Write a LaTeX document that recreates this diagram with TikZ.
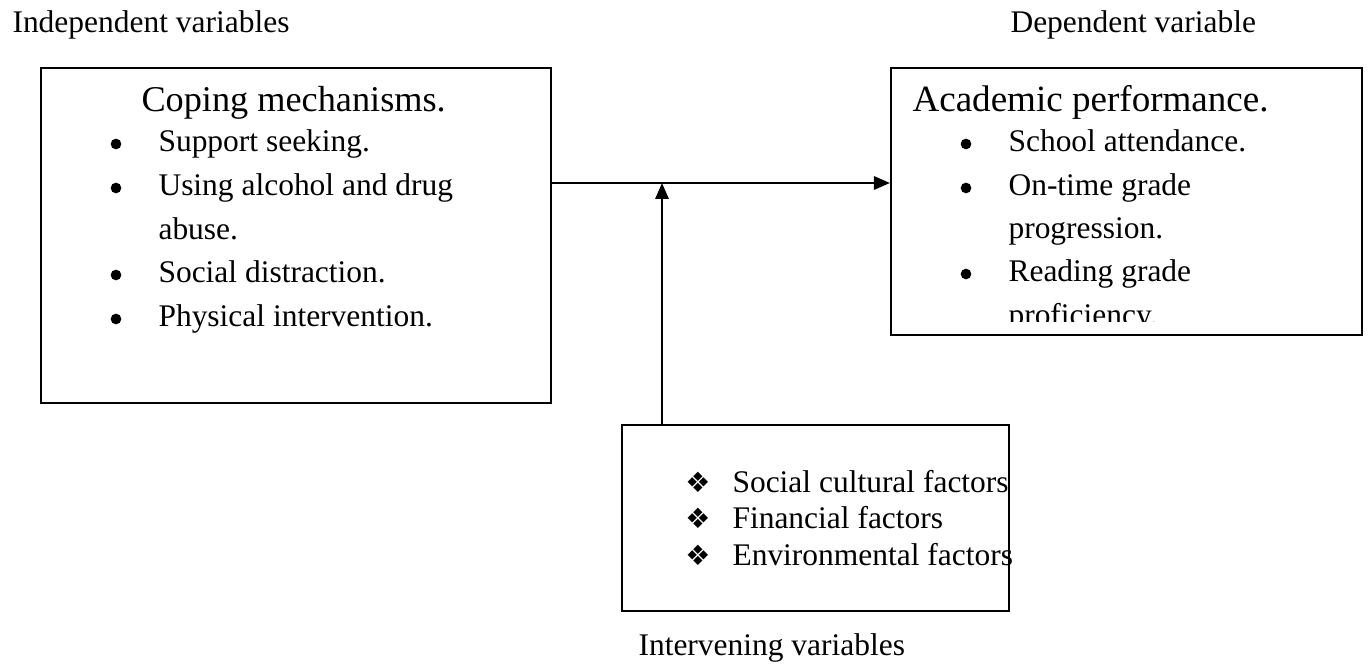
\documentclass[tikz,border=0pt]{standalone}
\usepackage{fontspec}
\setmainfont{Liberation Serif}
\newfontfamily\symfont{DejaVu Sans}
\usetikzlibrary{arrows.meta,fit}

\tikzset{
  box/.style={draw, line width=0.8pt, inner sep=0pt},
  txt/.style={anchor=base west, inner sep=0pt, font=\fontsize{11.8}{14}\selectfont},
  head/.style={anchor=base west, inner sep=0pt, font=\fontsize{13.6}{16}\selectfont},
  dot/.style={circle, fill, inner sep=0pt, minimum size=4pt},
  diam/.style={anchor=base, inner sep=0pt, font=\symfont\fontsize{10.5}{12}\selectfont},
  link/.style={line width=0.8pt, -{Triangle[length=6pt,width=5pt]}}
}

\begin{document}
\begin{tikzpicture}[x=0.375pt, y=-0.375pt]
    \useasboundingbox (0,0) rectangle (1368,665);

    % Variable labels
    \node[txt] (indep) at (12,33) {Independent variables};
    \node[txt] (dep) at (1010,33) {Dependent variable};
    \node[txt] (interv) at (638,655) {Intervening variables};

    % Coping mechanisms
    \node[box, fit={(41,68) (551,403)}] (coping) {};
    \node[head] (copinghead) at (141,112) {Coping mechanisms.};
    \foreach \y/\t [count=\i] in {152/Support seeking., 196/Using alcohol and drug, 240/abuse., 283/Social distraction., 327/Physical intervention.}
        \node[txt] (copingline\i) at (158,\y) {\t};
    \foreach \y [count=\i] in {152,196,283,327}
        \node[dot] (copingdot\i) at (116,\y-8) {};

    % Academic performance
    \node[box, fit={(891,68) (1362,335)}] (academic) {};
    \begin{scope}
        \clip (891,68) rectangle (1362,322);
        \node[head, font=\fontsize{13.9}{16}\selectfont] (academichead) at (912,112) {Academic performance.};
        \foreach \y/\t [count=\i] in {152/School attendance., 196/On-time grade, 239/progression., 282/Reading grade, 326/proficiency.}
            \node[txt] (academicline\i) at (1008,\y) {\t};
        \foreach \y [count=\i] in {152,196,282}
            \node[dot] (academicdot\i) at (966,\y-8) {};
    \end{scope}

    % Intervening factors
    \node[box, fit={(622,425) (1009,611)}] (factors) {};
    \foreach \y/\t [count=\i] in {492/Social cultural factors, 528/Financial factors, 565/Environmental factors} {
        \node[txt] (factorline\i) at (732,\y) {\t};
        \node[diam] (factordot\i) at (698,\y) {❖};
    }

    % Arrows
    \coordinate (meet) at (662,183);
    \draw[link] (coping.east |- meet) -- (academic.west |- meet);
    \draw[link] (factors.north -| meet) -- (meet);
\end{tikzpicture}
\end{document}
